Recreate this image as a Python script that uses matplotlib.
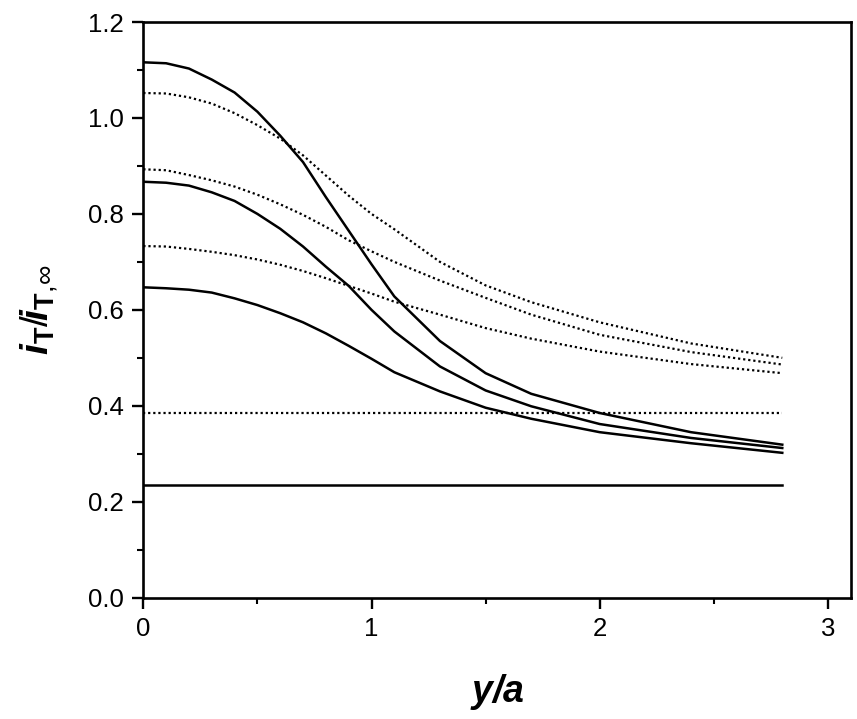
import numpy as np
import matplotlib
matplotlib.use("Agg")
import matplotlib.pyplot as plt
from matplotlib.ticker import MultipleLocator

# ======================================
# Data
# ======================================

x = [0, 0.1, 0.2, 0.3, 0.4, 0.5, 0.6, 0.7, 0.8, 0.9,
     1.0, 1.1, 1.3, 1.5, 1.7, 2.0, 2.4, 2.8]

solid_a = [1.116, 1.114, 1.103, 1.080, 1.053, 1.013, 0.963, 0.908, 0.835,
           0.765, 0.695, 0.628, 0.535, 0.468, 0.425, 0.385, 0.345, 0.319]
solid_b = [0.867, 0.865, 0.859, 0.845, 0.827, 0.800, 0.769, 0.732, 0.690,
           0.650, 0.600, 0.555, 0.482, 0.432, 0.399, 0.362, 0.333, 0.312]
solid_c = [0.647, 0.645, 0.642, 0.636, 0.624, 0.610, 0.593, 0.574, 0.551,
           0.525, 0.498, 0.470, 0.430, 0.396, 0.373, 0.345, 0.322, 0.302]

dotted_a = [1.052, 1.051, 1.043, 1.030, 1.010, 0.985, 0.957, 0.922, 0.880,
            0.838, 0.800, 0.768, 0.700, 0.651, 0.616, 0.574, 0.530, 0.500]
dotted_b = [0.893, 0.891, 0.881, 0.870, 0.857, 0.840, 0.820, 0.798, 0.773,
            0.745, 0.722, 0.700, 0.661, 0.625, 0.590, 0.548, 0.512, 0.486]
dotted_c = [0.733, 0.732, 0.727, 0.721, 0.714, 0.705, 0.694, 0.681, 0.666,
            0.650, 0.634, 0.617, 0.590, 0.562, 0.540, 0.513, 0.487, 0.468]

flat_x = [0, 2.8]
flat_solid = [0.234, 0.234]
flat_dotted = [0.385, 0.385]

# ======================================
# Style
# ======================================

plt.rcParams["font.family"] = ["Liberation Sans", "DejaVu Sans"]
plt.rcParams["mathtext.fontset"] = "custom"
plt.rcParams["mathtext.rm"] = "Liberation Sans"
plt.rcParams["mathtext.it"] = "Liberation Sans:italic"
plt.rcParams["mathtext.bf"] = "Liberation Sans:bold"
plt.rcParams["mathtext.bfit"] = "Liberation Sans:bold:italic"

fig = plt.figure(figsize=(8.57, 7.19), dpi=100)
ax = fig.add_axes([0.1672, 0.1687, 0.8255, 0.8007])

dots = (0, (1, 1.3))

for ys in [solid_a, solid_b, solid_c]:
    ax.plot(x, ys, color="black", lw=1.8)
for ys in [dotted_a, dotted_b, dotted_c]:
    ax.plot(x, ys, color="black", lw=1.6, linestyle=dots)

ax.plot(flat_x, flat_solid, color="black", lw=1.8)
ax.plot(flat_x, flat_dotted, color="black", lw=1.6, linestyle=dots)

ax.set_xlim(0, 3.1)
ax.set_ylim(0, 1.2)

ax.xaxis.set_major_locator(MultipleLocator(1))
ax.xaxis.set_minor_locator(MultipleLocator(0.5))
ax.yaxis.set_major_locator(MultipleLocator(0.2))
ax.yaxis.set_minor_locator(MultipleLocator(0.1))
ax.yaxis.set_major_formatter(plt.FormatStrFormatter("%.1f"))

ax.tick_params(which="major", direction="out", length=8, width=1.7,
               labelsize=18.5, pad=6)
ax.tick_params(which="minor", direction="out", length=4, width=1.5)
ax.tick_params(top=False, right=False, which="both")

for s in ax.spines.values():
    s.set_linewidth(1.9)

ax.set_xlabel(r"$\mathbfit{y/a}$", fontsize=27, labelpad=22)
ax.set_ylabel(
    r"$\mathbfit{i}_{\mathbf{T}}/\!\mathbfit{i}_{\mathbf{T},\!\infty}$",
    fontsize=28, labelpad=20)

fig.savefig("out.png", dpi=100)
